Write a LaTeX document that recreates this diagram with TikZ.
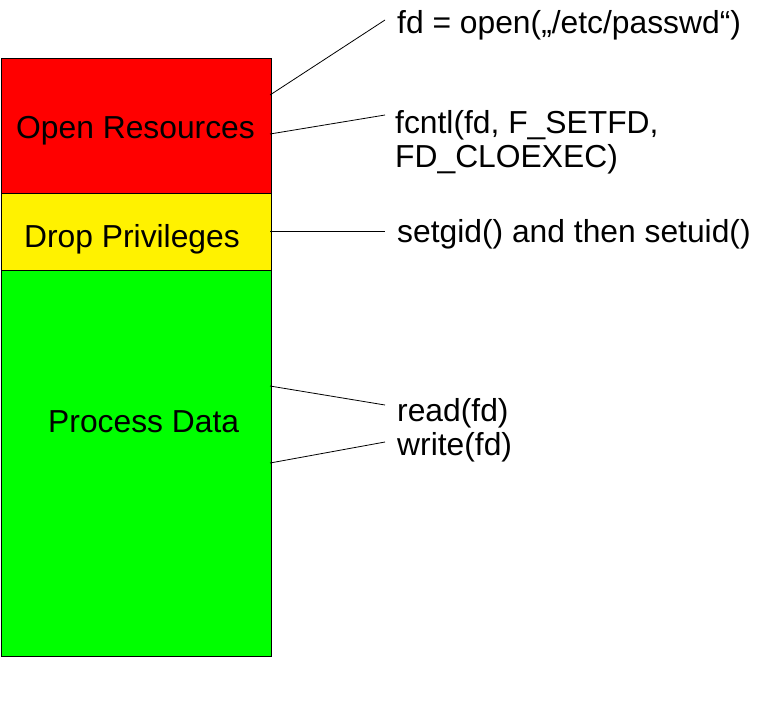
\documentclass[tikz,border=0pt]{standalone}
\usepackage{fontspec}
\setmainfont{Liberation Sans}
\begin{document}
\begin{tikzpicture}[x=1pt,y=-1pt,
  box/.style={draw=black, line width=1pt, inner sep=0pt, anchor=north west, minimum width=270pt},
  lbl/.style={font=\fontsize{31.8}{35}\selectfont, inner sep=0pt, anchor=base west},
  conn/.style={draw=black, line width=0.8pt}]
\useasboundingbox (0,0) rectangle (775,726);
\node[box, fill=red, minimum height=135pt] (open) at (0.5,58) {};
\node[box, fill=yellow, minimum height=77pt] (drop) at (0.5,193) {};
\node[box, fill=green, minimum height=386pt] (proc) at (0.5,270) {};
\node[lbl] (openl) at (16,138) {Open Resources};
\node[lbl] (dropl) at (24,247) {Drop Privileges};
\node[lbl] (procl) at (48,432) {Process Data};
\node[lbl] (t1) at (397,33) {fd = open(„/etc/passwd“)};
\node[lbl] (t2) at (395,133) {fcntl(fd, F\_SETFD,};
\node[lbl] (t3) at (395,167) {FD\_CLOEXEC)};
\node[lbl] (t4) at (397,242) {setgid() and then setuid()};
\node[lbl] (t5) at (397,421) {read(fd)};
\node[lbl] (t6) at (397,455) {write(fd)};
\coordinate (a1) at (270,95);  \coordinate (b1) at (385,20);
\coordinate (a2) at (270,134); \coordinate (b2) at (385,115);
\coordinate (a3) at (270,231); \coordinate (b3) at (385,231);
\coordinate (a4) at (270,386); \coordinate (b4) at (385,405);
\coordinate (a5) at (270,463); \coordinate (b5) at (385,442);
\draw[conn] (a1) -- (b1);
\draw[conn] (a2) -- (b2);
\draw[conn] (a3) -- (b3);
\draw[conn] (a4) -- (b4);
\draw[conn] (a5) -- (b5);
\end{tikzpicture}
\end{document}
